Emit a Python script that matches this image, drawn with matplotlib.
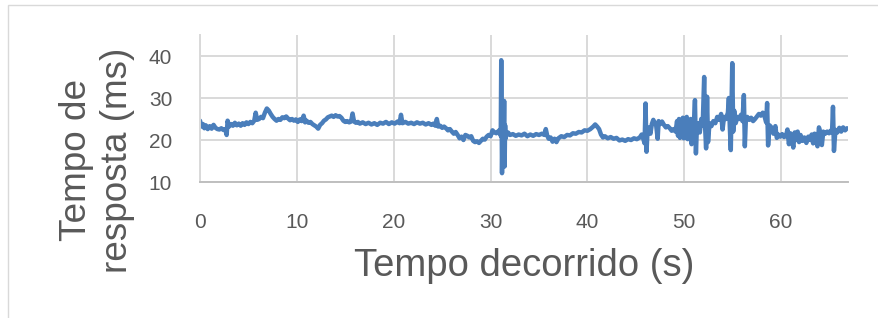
import matplotlib
matplotlib.use("Agg")
import matplotlib.pyplot as plt
from matplotlib.patches import Rectangle

# elapsed time (s) and response time (ms)
tempo_s = [
    0.0, 0.15, 0.3, 0.45, 0.6, 0.8, 1.0, 1.2, 1.4, 1.6, 1.8, 2.0, 2.2, 2.4, 2.6, 2.75, 2.85,
    3.0, 3.2, 3.4, 3.6, 3.8, 4.0, 4.2, 4.4, 4.6, 4.8, 5.0, 5.2, 5.4, 5.6, 5.75, 5.9,
    6.1, 6.3, 6.5, 6.7, 6.9, 7.1, 7.3, 7.5, 7.7, 7.9, 8.1, 8.3, 8.5, 8.7, 8.9, 9.1,
    9.3, 9.5, 9.7, 9.9, 10.1, 10.3, 10.5, 10.7, 10.85, 11.0, 11.2, 11.4, 11.6, 11.8,
    12.0, 12.2, 12.4, 12.6, 12.8, 13.0, 13.2, 13.4, 13.6, 13.8, 14.0, 14.2, 14.4, 14.6,
    14.8, 15.0, 15.2, 15.4, 15.6, 15.75, 15.9, 16.1, 16.3, 16.5, 16.8, 17.1, 17.4, 17.7,
    18.0, 18.3, 18.6, 18.9, 19.2, 19.5, 19.8, 20.1, 20.4, 20.6, 20.75, 20.9, 21.2, 21.5,
    21.8, 22.1, 22.4, 22.7, 23.0, 23.3, 23.6, 23.9, 24.1, 24.3, 24.45, 24.6, 24.8, 25.0,
    25.2, 25.4, 25.6, 25.8, 26.0, 26.2, 26.4, 26.6, 26.8, 27.0, 27.2, 27.4, 27.6, 27.8,
    28.0, 28.2, 28.4, 28.6, 28.8, 29.0, 29.2, 29.4, 29.6, 29.8, 30.0, 30.2, 30.4, 30.6,
    30.8, 30.95, 31.05, 31.1, 31.18, 31.25, 31.32, 31.4, 31.45, 31.5, 31.55, 31.6, 31.8,
    32.0, 32.3, 32.6, 32.9, 33.2, 33.5, 33.8, 34.1, 34.4, 34.7, 35.0, 35.3, 35.55, 35.7,
    35.85, 36.0, 36.2, 36.4, 36.6, 36.8, 37.0, 37.3, 37.6, 37.9, 38.2, 38.5, 38.8, 39.1,
    39.4, 39.7, 40.0, 40.3, 40.6, 40.8, 41.0, 41.2, 41.4, 41.6, 41.8, 42.1, 42.4, 42.7,
    43.0, 43.3, 43.6, 43.9, 44.2, 44.5, 44.8, 45.1, 45.4, 45.6, 45.75, 45.9, 46.0, 46.1,
    46.2, 46.35, 46.5, 46.65, 46.8, 46.95, 47.1, 47.25, 47.35, 47.5, 47.7, 47.9, 48.1,
    48.3, 48.5, 48.7, 48.9, 49.1, 49.25, 49.35, 49.45, 49.55, 49.65, 49.75, 49.85, 49.95,
    50.05, 50.15, 50.25, 50.35, 50.45, 50.55, 50.65, 50.75, 50.85, 50.95, 51.1, 51.2,
    51.3, 51.45, 51.6, 51.75, 51.9, 52.05, 52.15, 52.25, 52.35, 52.45, 52.6, 52.8, 53.0,
    53.2, 53.4, 53.6, 53.8, 53.95, 54.1, 54.3, 54.5, 54.6, 54.7, 54.8, 54.95, 55.05,
    55.15, 55.3, 55.5, 55.7, 55.85, 56.0, 56.15, 56.25, 56.35, 56.5, 56.7, 56.9, 57.1,
    57.3, 57.5, 57.7, 57.9, 58.1, 58.3, 58.45, 58.55, 58.65, 58.8, 59.0, 59.2, 59.4,
    59.55, 59.7, 59.9, 60.1, 60.3, 60.5, 60.65, 60.8, 60.95, 61.1, 61.25, 61.4, 61.55,
    61.7, 61.85, 62.0, 62.2, 62.4, 62.6, 62.8, 63.0, 63.15, 63.3, 63.45, 63.6, 63.75,
    63.9, 64.05, 64.2, 64.35, 64.55, 64.75, 64.95, 65.1, 65.25, 65.35, 65.45, 65.6,
    65.8, 66.0, 66.2, 66.4, 66.6, 66.8,
]
resposta_ms = [
    24.6, 23.2, 23.8, 22.8, 23.5, 22.6, 23.3, 22.7, 23.6, 22.9, 22.6, 22.5, 22.8, 22.4, 22.6, 21.2, 24.6,
    23.2, 23.8, 23.4, 24.1, 23.5, 23.9, 23.4, 24.0, 23.6, 24.2, 23.8, 24.3, 24.0, 24.6, 26.5, 24.8,
    25.0, 25.5, 25.2, 26.5, 27.5, 27.0, 26.2, 25.5, 25.0, 24.6, 25.0, 24.8, 25.4, 25.2, 25.6, 25.1,
    24.7, 25.0, 24.6, 24.9, 24.3, 24.9, 24.5, 25.8, 24.2, 24.6, 24.1, 24.3, 23.8, 23.5,
    23.2, 22.7, 23.6, 24.0, 24.6, 24.9, 25.4, 25.6, 25.8, 25.5, 25.9, 25.6, 25.7, 25.3,
    24.6, 24.3, 24.5, 24.2, 24.4, 26.3, 24.4, 24.1, 24.3, 23.9, 24.2, 23.8, 24.1, 23.7,
    24.0, 23.6, 24.1, 23.9, 24.3, 23.8, 24.2, 23.9, 24.4, 24.0, 26.0, 24.0, 24.3, 23.9,
    24.1, 23.8, 24.2, 23.9, 24.1, 23.7, 24.0, 23.6, 23.9, 23.4, 25.0, 23.2, 23.4, 22.9,
    23.2, 22.8, 22.3, 22.6, 22.0, 21.5, 21.9, 21.2, 20.4, 20.8, 20.0, 21.2, 21.0, 20.6,
    20.9, 19.8, 19.5, 19.7, 19.3, 19.8, 20.3, 20.1, 20.8, 21.2, 20.9, 22.3, 21.8, 21.6,
    22.1, 22.4, 21.0, 39.0, 12.1, 24.5, 15.0, 29.3, 13.7, 23.5, 20.4, 21.0, 21.8,
    21.2, 21.4, 21.0, 21.3, 21.1, 21.5, 20.9, 21.3, 21.0, 21.4, 21.2, 21.5, 21.2, 22.6,
    21.0, 20.3, 20.6, 19.6, 20.3, 19.5, 20.4, 20.9, 20.7, 21.2, 21.1, 21.6, 21.5, 21.9,
    21.8, 22.3, 22.2, 22.6, 23.2, 23.7, 23.2, 22.6, 21.3, 20.6, 20.9, 20.4, 20.7, 20.3,
    20.5, 19.9, 20.1, 19.8, 20.2, 20.0, 20.4, 20.2, 20.6, 21.3, 20.4, 19.2, 28.7, 17.2,
    22.0, 23.0, 21.5, 23.8, 24.8, 24.0, 23.4, 20.3, 24.5, 23.8, 24.4, 23.6, 23.0,
    23.3, 22.8, 22.2, 22.6, 22.0, 24.5, 21.0, 25.0, 20.5, 24.2, 21.0, 25.3, 20.4,
    24.8, 21.5, 25.5, 20.2, 24.0, 20.8, 25.0, 19.0, 24.3, 22.0, 29.5, 16.8,
    23.0, 24.0, 21.8, 25.0, 23.5, 35.0, 23.0, 18.0, 30.3, 19.5, 24.0, 23.3, 24.5,
    24.0, 25.5, 24.8, 26.2, 22.5, 25.5, 25.0, 26.5, 30.0, 23.0, 17.6, 38.3, 22.0,
    27.0, 24.0, 25.5, 25.0, 26.0, 24.5, 30.7, 18.5, 24.5, 25.5, 24.8, 25.3, 24.5,
    25.0, 25.6, 26.2, 25.8, 26.5, 25.5, 24.2, 28.8, 18.7, 23.5, 23.0, 21.5, 23.3,
    20.5, 21.3, 20.8, 21.4, 20.7, 21.0, 22.5, 19.0, 21.6, 20.4, 18.2, 21.8, 20.0,
    22.0, 19.5, 21.2, 19.8, 20.6, 19.3, 20.8, 20.0, 21.3, 19.2, 21.5, 20.0, 18.5,
    23.0, 21.8, 18.8, 22.0, 21.5, 22.0, 21.6, 22.2, 21.8, 27.9, 17.4, 22.4,
    21.8, 22.9, 22.0, 23.0, 22.3, 22.8,
]

x_ticks = [0, 10, 20, 30, 40, 50, 60]
y_ticks = [10, 20, 30, 40]

text_grey = "#595959"
grid_grey = "#D9D9D9"

fig = plt.figure(figsize=(8.79, 3.18), dpi=100)
# light chart-area border (only top and left edges show in the crop)
fig.patches.append(Rectangle((8 / 879, -0.05), 1.0, 1.05 - 5 / 318, transform=fig.transFigure,
                             fill=False, ec=grid_grey, lw=1.0))
ax = fig.add_axes([200 / 879, 1 - 182 / 318, (848 - 200) / 879, (182 - 35) / 318])

ax.plot(tempo_s, resposta_ms, color="#4A7EBB", lw=3.2, solid_joinstyle="round",
        solid_capstyle="round")

ax.set_xlim(0, 66.9)
ax.set_ylim(10, 45)
ax.set_xticks(x_ticks)
ax.set_yticks(y_ticks)
ax.grid(True, color=grid_grey, lw=1.4)
ax.set_axisbelow(True)
ax.tick_params(length=0, labelsize=15, labelcolor=text_grey)
ax.tick_params(axis="x", pad=22)
ax.tick_params(axis="y", pad=20)
for lab in ax.get_xticklabels() + ax.get_yticklabels():
    lab.set_family("Liberation Sans")
ax.spines[["top", "right"]].set_visible(False)
ax.spines["left"].set_color(grid_grey)
ax.spines["bottom"].set_color("#BFBFBF")
ax.spines["left"].set_linewidth(1.4)
ax.spines["bottom"].set_linewidth(1.4)

fig.text(524 / 879, 1 - 266 / 318, "Tempo decorrido (s)", ha="center", va="center",
         fontsize=27.5, color=text_grey, family="Liberation Sans")
fig.text(97 / 879, 1 - 160 / 318, "Tempo de\nresposta (ms)", ha="center", va="center",
         rotation=90, multialignment="center", linespacing=1.25,
         fontsize=26.6, color=text_grey, family="Liberation Sans")

fig.savefig("out.png", dpi=100, facecolor="white")
